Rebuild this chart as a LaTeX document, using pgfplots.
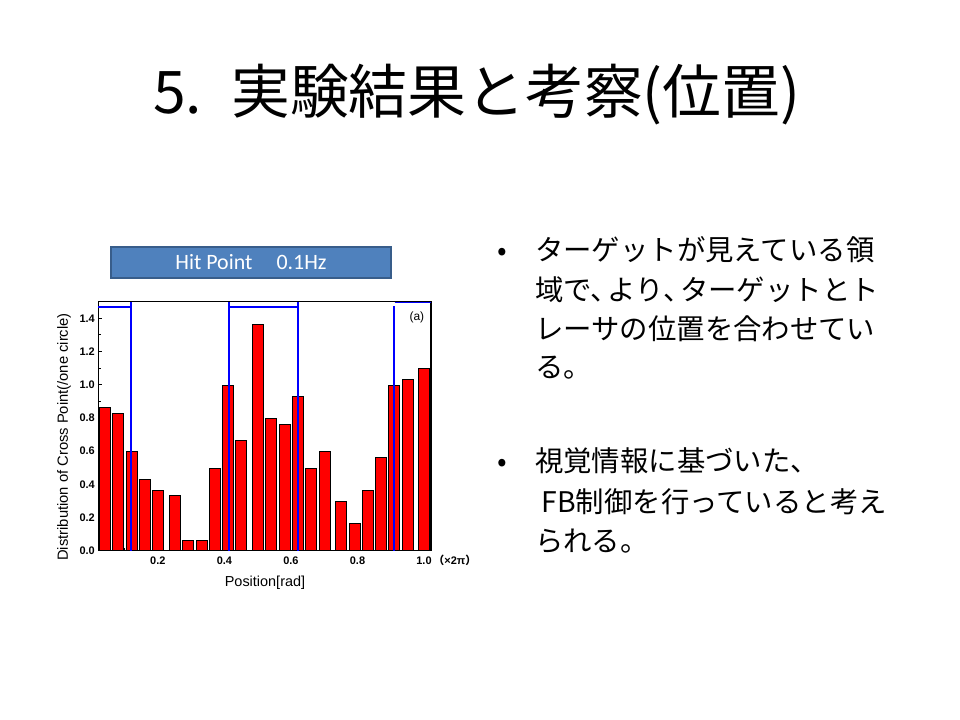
\documentclass[border=0pt]{standalone}
\usepackage{pgfplots}
\pgfplotsset{compat=1.18}
\usepackage{fontspec}
\setmainfont{Liberation Sans}
\newfontfamily\cjk{Noto Sans CJK JP}
\newfontfamily\calib{Carlito}
\definecolor{boxfill}{HTML}{4F81BD}
\definecolor{boxdraw}{HTML}{385D8A}
\definecolor{lineblue}{RGB}{0,0,255}
\begin{document}
\begin{tikzpicture}[x=1bp,y=1bp]
\fill[white] (0,0) rectangle (960,720);
\path[use as bounding box] (0,0) rectangle (960,720);
% title
\node[anchor=west, inner sep=0pt] at (153,625) {\cjk\fontsize{59}{64}\selectfont 5.\hspace{0.2em} 実験結果と考察(位置)};
% bullets
\tikzset{bl/.style={anchor=west, inner sep=0pt, text height=25bp, text depth=3.4bp, font=\cjk\fontsize{28.5}{30}\selectfont}}
\node[bl] at (497,470) {•};
\node[bl] at (535,470) {ターゲットが見えている領};
\node[bl] at (535,430) {域で、\hspace{-0.4em}より、\hspace{-0.4em}ターゲットとト};
\node[bl] at (535,391) {レーサの位置を合わせてい};
\node[bl] at (535,353) {る。};
\node[bl] at (497,259) {•};
\node[bl] at (535,259) {視覚情報に基づいた、};
\node[bl] at (535,218) {\ FB制御を行っていると考え};
\node[bl] at (535,179) {られる。};
% box
\draw[boxdraw, line width=2bp, fill=boxfill] (111,473) rectangle (391,442);
\node[white, inner sep=0pt] at (251,457.5) {\calib\fontsize{22}{23}\selectfont Hit Point\hspace{1.1em}0.1Hz};
% axis labels
\node[inner sep=0pt, font=\fontsize{14.5}{15}\selectfont] at (265,137) {Position[rad]};
\node[inner sep=0pt, rotate=90, font=\fontsize{14.8}{15}\selectfont] at (64,283) {Distribution of Cross Point(/one circle)};
\begin{axis}[
  at={(98.3bp,169.3bp)}, anchor=south west,
  scale only axis, width=332.7bp, height=249bp,
  xmin=0.021, xmax=1.021, ymin=0, ymax=1.5,
  axis line style={line width=1.6bp},
  tick align=inside, tick pos=left,
  major tick length=4bp, minor tick length=3bp,
  tick style={black, line width=1bp},
  xtick={0.2,0.4,0.6,0.8,1.0},
  xticklabels={0.2,0.4,0.6,0.8,{1.0\rlap{\smash{\,{\cjk（}×2π{\cjk）}}}}},
  minor xtick={0.1,0.3,0.5,0.7,0.9},
  ytick={0,0.2,0.4,0.6,0.8,1.0,1.2,1.4},
  minor ytick={0.1,0.3,0.5,0.7,0.9,1.1,1.3},
  yticklabel style={/pgf/number format/.cd, fixed, fixed zerofill, precision=1, assume math mode=true},
  tick label style={font=\fontsize{11}{12}\selectfont\bfseries},
  xticklabel style={yshift=-2bp, text height=8bp, text depth=1bp},
  clip=false,
]
\addplot[ybar, bar width=11bp, fill=red, draw=black, line width=0.8bp] coordinates {
(0.042,0.862) (0.080,0.827) (0.122,0.599) (0.162,0.430) (0.200,0.364) (0.251,0.333)
(0.290,0.062) (0.332,0.062) (0.372,0.496) (0.410,0.996) (0.450,0.665) (0.500,1.364)
(0.541,0.797) (0.582,0.761) (0.620,0.930) (0.660,0.496) (0.702,0.599) (0.751,0.297)
(0.792,0.165) (0.831,0.364) (0.870,0.562) (0.910,0.996) (0.951,1.032) (1.001,1.099)
};
\addplot[lineblue, line width=1.6bp] coordinates {(0.021,1.468) (0.120,1.468)};
\addplot[lineblue, line width=1.6bp] coordinates {(0.120,0) (0.120,1.5)};
\addplot[lineblue, line width=1.6bp] coordinates {(0.414,0) (0.414,1.5)};
\addplot[lineblue, line width=1.6bp] coordinates {(0.414,1.468) (0.621,1.468)};
\addplot[lineblue, line width=1.6bp] coordinates {(0.621,0) (0.621,1.5)};
\addplot[lineblue, line width=1.6bp] coordinates {(0.909,0) (0.909,1.474)};
\addplot[lineblue, line width=1.6bp] coordinates {(0.912,1.494) (1.021,1.494)};
\node[anchor=north east, font=\fontsize{12}{13}\selectfont] at (rel axis cs:0.99,0.975) {(a)};
\end{axis}
\end{tikzpicture}
\end{document}
